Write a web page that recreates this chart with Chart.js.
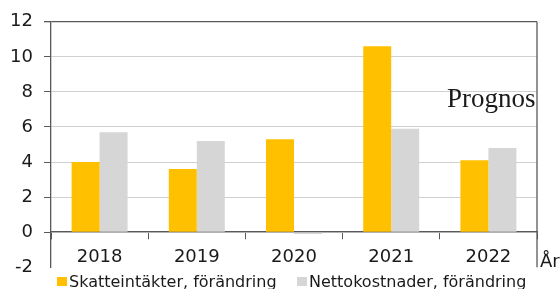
<!DOCTYPE html>
<html>
<head>
<meta charset="utf-8">
<script src="https://cdn.jsdelivr.net/npm/chart.js@4"></script>
<style>
  html, body { margin: 0; padding: 0; background: #fff; }
  #wrap { width: 560px; height: 289px; }
</style>
</head>
<body>
<div id="wrap"><canvas id="chart" width="560" height="289"></canvas></div>
<script>
// Data
const years = ['2018', '2019', '2020', '2021', '2022'];
const skatteintakter = [4.0, 3.6, 5.3, 10.6, 4.1];
const nettokostnader = [5.7, 5.2, -0.1, 5.9, 4.8];
const seriesNames = ['Skatteintäkter, förändring', 'Nettokostnader, förändring'];
const yTicks = [-2, 0, 2, 4, 6, 8, 10, 12];

const ORANGE = '#FFC000';
const GREY = '#D6D6D6';
const AXIS = '#595959';
const GRID = '#D0D0D0';
const TEXT = '#1a1a1a';

// Extra texts, borders and legend
const extras = {
    id: 'extras',
    afterDraw(chart) {
        const ctx = chart.ctx;
        const a = chart.chartArea;
        ctx.save();
        // right border
        ctx.strokeStyle = AXIS;
        ctx.lineWidth = 1.3;
        ctx.beginPath();
        ctx.moveTo(a.right, a.top);
        ctx.lineTo(a.right, a.bottom);
        ctx.stroke();

        ctx.fillStyle = TEXT;
        ctx.textBaseline = 'alphabetic';
        ctx.font = '27px "Liberation Serif"';
        ctx.fillText('Prognos', 447, 107);

        ctx.font = '18px "DejaVu Sans"';
        ctx.fillText('År', 540, 267);

        // legend
        ctx.font = '16px "DejaVu Sans"';
        const colors = [ORANGE, GREY];
        const xs = [57, 297];
        for (let i = 0; i < seriesNames.length; i++) {
            ctx.fillStyle = colors[i];
            ctx.fillRect(xs[i], 277, 10, 9);
            ctx.fillStyle = TEXT;
            ctx.fillText(seriesNames[i], xs[i] + 12, 287);
        }
        ctx.restore();
    }
};

new Chart(document.getElementById('chart'), {
    type: 'bar',
    data: {
        labels: years,
        datasets: [
            { label: seriesNames[0], data: skatteintakter, backgroundColor: ORANGE },
            { label: seriesNames[1], data: nettokostnader, backgroundColor: GREY }
        ]
    },
    options: {
        responsive: false,
        animation: false,
        layout: { padding: { left: 0, right: 23, top: 21, bottom: 21 } },
        plugins: { legend: { display: false }, tooltip: { enabled: false } },
        datasets: { bar: { barPercentage: 1, categoryPercentage: 0.576 } },
        scales: {
            x: {
                position: { y: 0 },
                grid: { drawOnChartArea: false, drawTicks: true, tickLength: 7, tickColor: AXIS, offset: true },
                border: { display: true, color: AXIS, width: 1.3 },
                ticks: { color: TEXT, padding: 7, font: { family: 'DejaVu Sans', size: 18 } }
            },
            y: {
                min: -2,
                max: 12,
                afterFit(scale) { scale.width = 51; },
                afterBuildTicks(scale) { scale.ticks = yTicks.map(v => ({ value: v })); },
                grid: {
                    color: c => c.tick && c.tick.value === 12 ? AXIS : (c.tick && c.tick.value === -2 ? 'rgba(0,0,0,0)' : GRID),
                    lineWidth: c => c.tick && c.tick.value === 12 ? 1.3 : 1,
                    tickColor: c => c.tick && c.tick.value === -2 ? 'rgba(0,0,0,0)' : AXIS,
                    tickLength: 7
                },
                border: { display: true, color: AXIS, width: 1.3 },
                ticks: { color: TEXT, padding: 11, font: { family: 'DejaVu Sans', size: 18 } }
            }
        }
    },
    plugins: [extras]
});
</script>
</body>
</html>
